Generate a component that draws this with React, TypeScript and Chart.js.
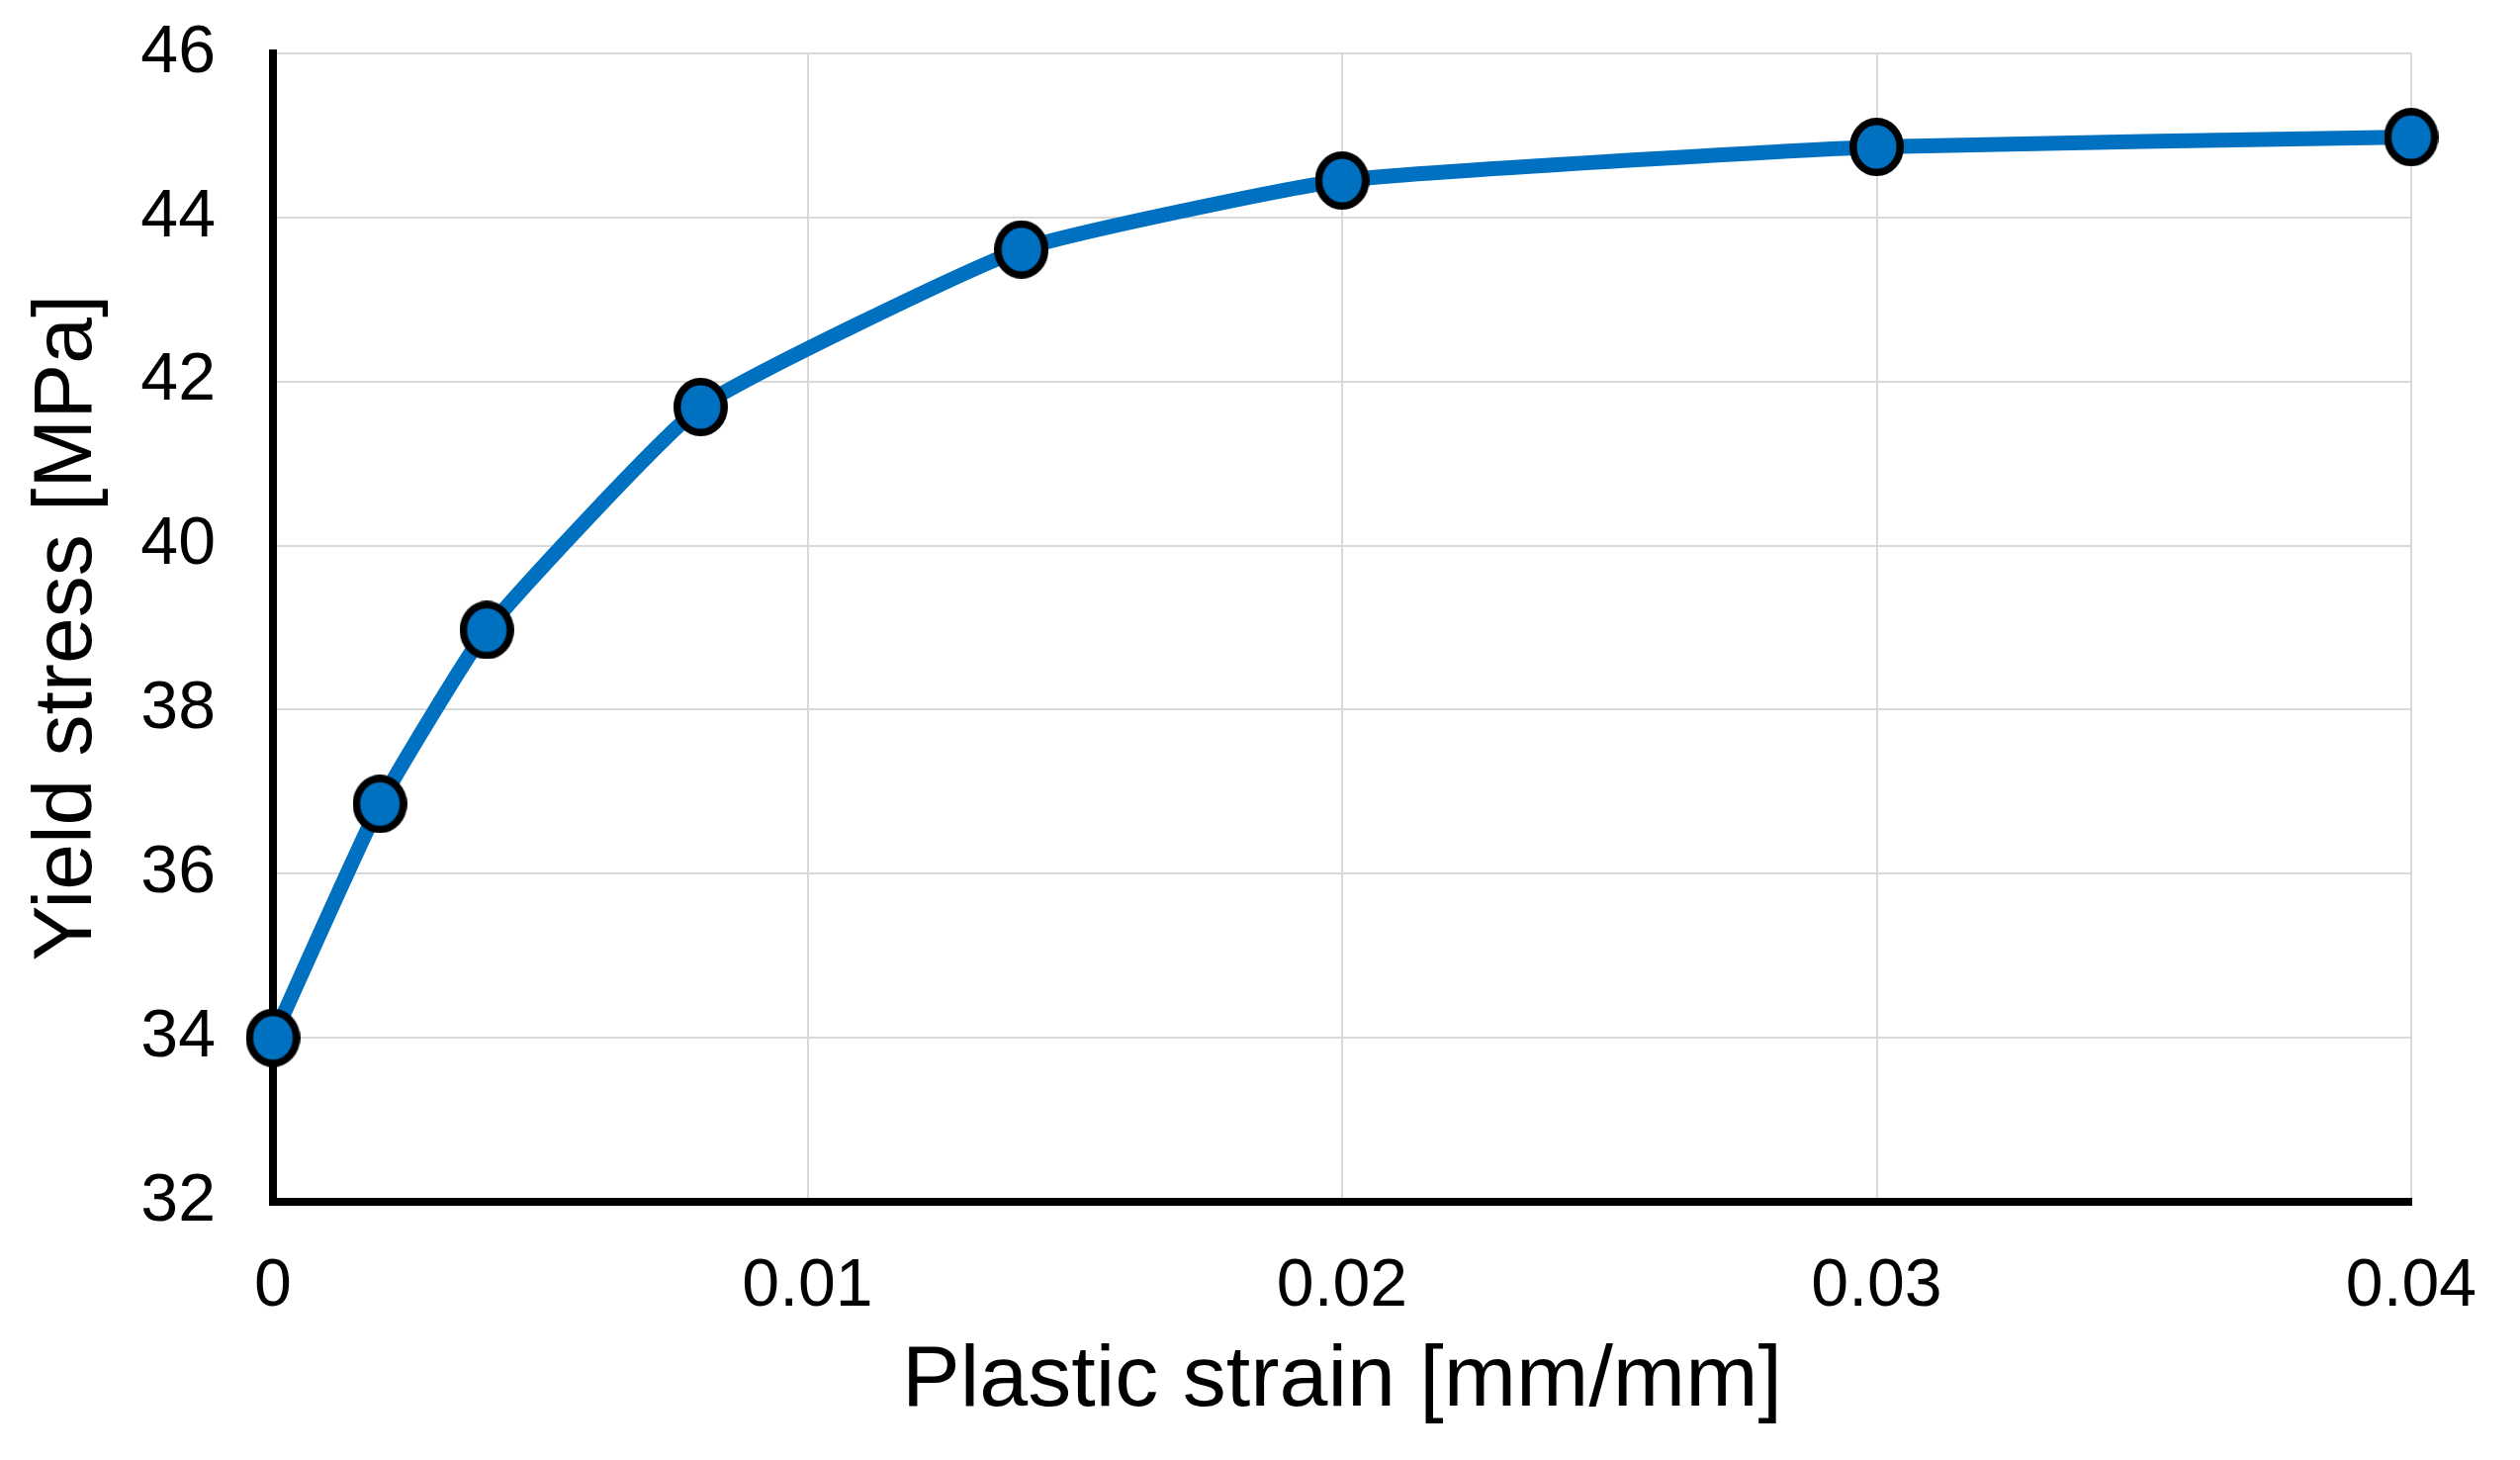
import React, { useEffect, useRef } from "react";
import { Chart, registerables } from "chart.js";

Chart.register(...registerables);

const strain = [0, 0.002, 0.004, 0.008, 0.014, 0.02, 0.03, 0.04];
const yieldStress = [34.0, 36.85, 38.97, 41.69, 43.61, 44.45, 44.86, 44.98];
const xTickValues = [0, 0.01, 0.02, 0.03, 0.04];
const xTickLabels = ["0", "0.01", "0.02", "0.03", "0.04"];
const yTickValues = [32, 34, 36, 38, 40, 42, 44, 46];
const yTickLabels = ["32", "34", "36", "38", "40", "42", "44", "46"];
const xTitle = "Plastic strain [mm/mm]";
const yTitle = "Yield stress [MPa]";

const FONT = "'Liberation Sans', Arial, sans-serif";
const BLUE = "#0070C0";

function makeMarker(): HTMLCanvasElement {
  const w = 55;
  const h = 59;
  const c = document.createElement("canvas");
  c.width = w;
  c.height = h;
  const ctx = c.getContext("2d")!;
  const bw = 7.5;
  ctx.beginPath();
  ctx.ellipse(w / 2, h / 2, w / 2 - bw / 2, h / 2 - bw / 2, 0, 0, Math.PI * 2);
  ctx.fillStyle = BLUE;
  ctx.fill();
  ctx.lineWidth = bw;
  ctx.strokeStyle = "#000";
  ctx.stroke();
  return c;
}

export default function App() {
  const ref = useRef<HTMLCanvasElement | null>(null);
  useEffect(() => {
    if (!ref.current) return;
    const marker = makeMarker();
    const chart = new Chart(ref.current, {
      type: "scatter",
      data: {
        datasets: [
          {
            data: strain.map((x, i) => ({ x, y: yieldStress[i] })),
            showLine: true,
            borderColor: BLUE,
            borderWidth: 15,
            backgroundColor: BLUE,
            tension: 0.14,
            pointStyle: marker,
            pointRadius: 30,
            clip: false,
          } as any,
        ],
      },
      options: {
        animation: false,
        responsive: false,
        events: [],
        layout: { padding: { left: 0, right: 110, top: 54, bottom: 0 } },
        plugins: { legend: { display: false }, tooltip: { enabled: false } },
        scales: {
          x: {
            type: "linear",
            min: 0,
            max: 0.04,
            afterFit: (s: any) => {
              s.height = 261;
              s.paddingLeft = 0;
              s.paddingRight = 0;
              s.paddingTop = 0;
              s.paddingBottom = 0;
            },
            afterBuildTicks: (s: any) => {
              s.ticks = xTickValues.map((v) => ({ value: v }));
            },
            ticks: {
              padding: 45,
              color: "#000",
              font: { family: FONT, size: 68 },
              callback: (v: any) => {
                const i = xTickValues.findIndex((t) => Math.abs(t - Number(v)) < 1e-9);
                return i >= 0 ? xTickLabels[i] : "";
              },
            },
            grid: { color: "#d9d9d9", lineWidth: 2, drawTicks: false },
            border: { display: true, color: "#000", width: 8 },
            title: {
              display: true,
              text: xTitle,
              color: "#000",
              font: { family: FONT, size: 88 },
              padding: { top: 0, bottom: 26 },
            },
          },
          y: {
            type: "linear",
            min: 32,
            max: 46,
            afterFit: (s: any) => {
              s.width = 276;
              s.paddingLeft = 0;
              s.paddingRight = 0;
              s.paddingTop = 0;
              s.paddingBottom = 0;
            },
            afterBuildTicks: (s: any) => {
              s.ticks = yTickValues.map((v) => ({ value: v }));
            },
            ticks: {
              padding: 58,
              color: "#000",
              font: { family: FONT, size: 68 },
              callback: (v: any) => {
                const i = yTickValues.findIndex((t) => Math.abs(t - Number(v)) < 1e-9);
                return i >= 0 ? yTickLabels[i] : "";
              },
            },
            grid: { color: "#d9d9d9", lineWidth: 2, drawTicks: false },
            border: { display: true, color: "#000", width: 8 },
            title: {
              display: true,
              text: yTitle,
              color: "#000",
              font: { family: FONT, size: 84 },
              padding: { top: 18, bottom: 0 },
            },
          },
        },
      },
    });
    return () => chart.destroy();
  }, []);
  return (
    <div style={{ position: "absolute", left: 0, top: 0, width: 2548, height: 1476, background: "#fff" }}>
      <canvas ref={ref} width={2548} height={1476} />
    </div>
  );
}
